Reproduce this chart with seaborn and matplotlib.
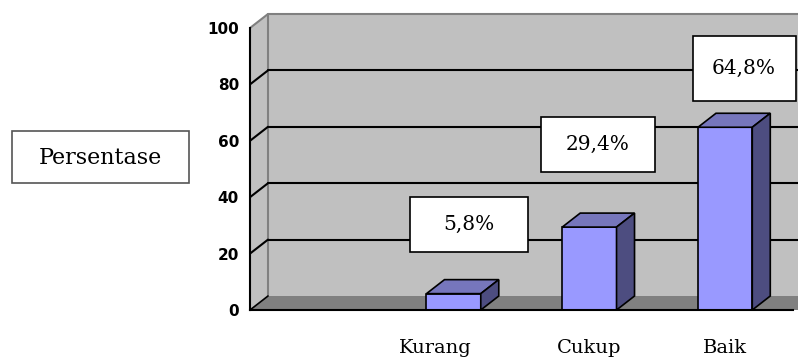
import matplotlib
matplotlib.use("Agg")
import matplotlib.pyplot as plt
from matplotlib.patches import Polygon, Rectangle
from matplotlib.lines import Line2D
from matplotlib.transforms import IdentityTransform, Affine2D
import seaborn as sns

# Category slots along the x axis (first slot left empty) and the bar values
slots = [" ", "Kurang", "Cukup", "Baik"]
categories = ["Kurang", "Cukup", "Baik"]
values = [5.8, 29.4, 64.8]
y_ticks = [0, 20, 40, 60, 80, 100]

# Colours of the 3D blocks and the chart walls
FRONT = "#9999FF"
TOP = "#7676BC"
SIDE = "#4D4D80"
WALL = "#C0C0C0"
FLOOR = "#808080"

sns.set_style("white")
plt.rcParams["font.family"] = ["DejaVu Sans"]
plt.rcParams["text.color"] = "black"

W, H = 798, 362
fig = plt.figure(figsize=(W / 100, H / 100), dpi=100)
ax = fig.add_axes([250 / W, 52 / H, 543 / W, 282 / H])
ax.set_facecolor("none")

sns.barplot(x=categories, y=values, order=slots, color=FRONT, saturation=1,
            width=0.4, edgecolor="black", linewidth=1.2, ax=ax, zorder=3)

ax.set_xlim(-0.5, len(slots) - 0.5)
ax.set_ylim(0, 100)

# depth of the 3D box expressed in data units (18 px right, 14 px up)
px_x = ax.bbox.width / (len(slots))
px_y = ax.bbox.height / 100.0
ddx = 18 / px_x
ddy = 14 / px_y
x0, x1 = -0.5, len(slots) - 0.5
x_far = x1 + 0.3

# back wall
ax.add_patch(Rectangle((x0 + ddx, ddy), x_far - x0, 100, facecolor=WALL,
                       edgecolor="none", zorder=0, clip_on=False))
# left side wall
ax.add_patch(Polygon([(x0, 0), (x0 + ddx, ddy), (x0 + ddx, 100 + ddy), (x0, 100)],
                     closed=True, facecolor=WALL, edgecolor="none", zorder=0,
                     clip_on=False))
# wall outline
ax.add_line(Line2D([x0 + ddx, x0 + ddx, x_far + ddx], [ddy, 100 + ddy, 100 + ddy],
                   color="#808080", lw=1.5, zorder=0.5, clip_on=False))
ax.add_line(Line2D([x0, x0 + ddx], [100, 100 + ddy], color="#808080", lw=1.5,
                   zorder=0.5, clip_on=False))

# gridlines on the back wall and the side wall
for v in y_ticks[1:-1]:
    ax.add_line(Line2D([x0 + ddx, x_far + ddx], [v + ddy, v + ddy], color="black",
                       lw=1.5, zorder=0.6, clip_on=False))
    ax.add_line(Line2D([x0, x0 + ddx], [v, v + ddy], color="black", lw=1.5,
                       zorder=0.6, clip_on=False))

# floor
ax.add_patch(Polygon([(x0, 0), (x_far, 0), (x_far + ddx, ddy), (x0 + ddx, ddy)],
                     closed=True, facecolor=FLOOR, edgecolor="none", zorder=0.7,
                     clip_on=False))
ax.add_line(Line2D([x0, x0 + ddx], [0, ddy], color="black", lw=1.2, zorder=0.8,
                   clip_on=False))

# top and side faces of each bar
front_rgb = matplotlib.colors.to_rgb(FRONT)
for p in list(ax.patches):
    if not isinstance(p, Rectangle) or p.get_facecolor()[:3] != front_rgb:
        continue
    bx, bw, bh = p.get_x(), p.get_width(), p.get_height()
    top = [(bx, bh), (bx + bw, bh), (bx + bw + ddx, bh + ddy), (bx + ddx, bh + ddy)]
    side = [(bx + bw, 0), (bx + bw + ddx, ddy), (bx + bw + ddx, bh + ddy), (bx + bw, bh)]
    ax.add_patch(Polygon(top, closed=True, facecolor=TOP, edgecolor="black",
                         lw=1.2, zorder=3, clip_on=False))
    ax.add_patch(Polygon(side, closed=True, facecolor=SIDE, edgecolor="black",
                         lw=1.2, zorder=3, clip_on=False))

# axes lines and ticks
for s in ["top", "right"]:
    ax.spines[s].set_visible(False)
for s in ["left", "bottom"]:
    ax.spines[s].set_color("black")
    ax.spines[s].set_linewidth(1.5)
    ax.spines[s].set_zorder(4)

ax.set_yticks(y_ticks)
ax.set_yticklabels([str(t) for t in y_ticks], fontweight="bold", fontsize=11)
ax.tick_params(axis="y", length=5, width=1.5, pad=3, colors="black")

ax.set_xticks([i - 0.5 for i in range(len(slots) + 1)])
ax.set_xticklabels([])
ax.tick_params(axis="x", which="major", length=5, width=1.5, colors="black")
ax.set_xticks(range(len(slots)), minor=True)
ax.set_xticklabels(slots, minor=True, family="DejaVu Serif", fontsize=14)
ax.tick_params(axis="x", which="minor", length=0, pad=21, labelcolor="black")
# the first category name sits a little left of its slot centre
kur = ax.get_xticklabels(minor=True)[slots.index("Kurang")]
kur.set_transform(kur.get_transform() + Affine2D().translate(-18, 0))
ax.set_xlabel("")
ax.set_ylabel("")

# value labels in white boxes (offset from the bar top, box size in pixels)
label_offsets = [(15, 69.5), (8.5, 82.5), (19, 58.5)]
box_sizes = [(118, 55), (114, 55), (103, 65)]
for cat, v, (ox, oy), (bw, bh) in zip(categories, values, label_offsets, box_sizes):
    px, py = ax.transData.transform((slots.index(cat), v))
    cx, cy = px + ox, py + oy
    fig.patches.append(Rectangle((cx - bw / 2, cy - bh / 2), bw, bh,
                                 transform=IdentityTransform(), figure=fig,
                                 facecolor="white", edgecolor="black", lw=1.2,
                                 zorder=6))
    fig.text(cx / W, cy / H, f"{v:.1f}%".replace(".", ","), ha="center",
             va="center", family="DejaVu Serif", fontsize=14.5, zorder=7)

# series name box on the left
fig.patches.append(Rectangle((12, H - 183), 177, 52, transform=IdentityTransform(),
                             figure=fig, facecolor="white", edgecolor="#555555",
                             lw=1.2, zorder=6))
fig.text(100.5 / W, 1 - 158 / H, "Persentase", ha="center", va="center",
         family="DejaVu Serif", fontsize=16, zorder=7)

fig.savefig("out.png", dpi=100)
